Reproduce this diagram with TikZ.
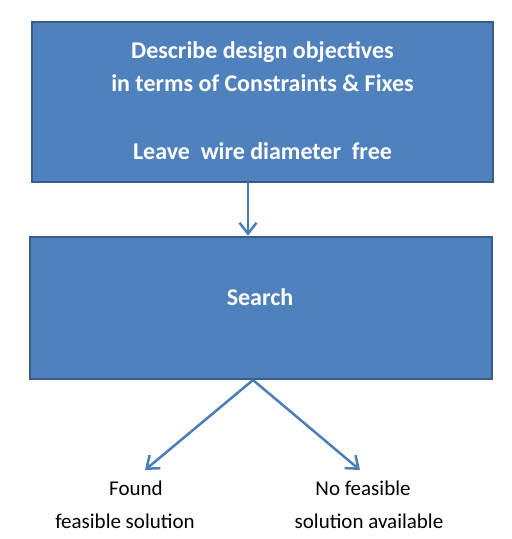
\documentclass[tikz,border=0pt]{standalone}
\usepackage{fontspec}
\setmainfont{Carlito}
\usetikzlibrary{arrows.meta}
\definecolor{boxfill}{HTML}{4F81BD}
\definecolor{boxline}{HTML}{385D8A}
\definecolor{arrowblue}{HTML}{4A7EBB}
\tikzset{
  bluebox/.style={draw=boxline, fill=boxfill, line width=2.5pt, inner sep=0pt},
  boxtext/.style={text=white, font=\fontsize{24}{33}\selectfont\bfseries, align=center},
  plaintext/.style={font=\fontsize{21}{33}\selectfont, align=center},
  flow/.style={draw=arrowblue, line width=2.5pt, -{Straight Barb[length=11pt,width=17pt,line width=2.5pt]}}
}
\begin{document}
\begin{tikzpicture}[x=1pt,y=-1pt]
\useasboundingbox (0,0) rectangle (512,539);

\node[bluebox, minimum width=461pt, minimum height=160pt] (describe) at (262.5,102) {};
\node[boxtext] (describetxt) at (262.5,101) {Describe design objectives\\in terms of Constraints \& Fixes\\[35pt]Leave\ \ wire diameter\ \ free};

\node[bluebox, minimum width=462pt, minimum height=142pt] (search) at (261,308) {};
\node[boxtext] (searchtxt) at (260,297) {Search};

\coordinate (split) at (253,380);
\coordinate (left) at (145,470);
\coordinate (right) at (360,470);

\node[plaintext] (found) at (125,505) {\hspace*{22pt}Found\\feasible solution};
\node[plaintext] (nofound) at (369,505) {No feasible\hspace*{12pt}\\solution available};

\draw[flow] (describe.south -| 248,0) -- (search.north -| 248,0);
\draw[flow] (split) -- (left);
\draw[flow] (split) -- (right);

\end{tikzpicture}
\end{document}
